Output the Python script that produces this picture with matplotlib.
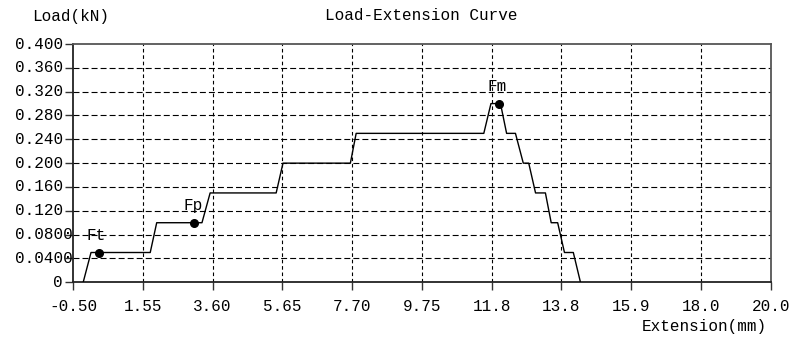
import numpy as np
import matplotlib
matplotlib.use("Agg")
import matplotlib.pyplot as plt

plt.rcParams['font.family'] = ['Liberation Mono', 'DejaVu Sans Mono']
plt.rcParams['lines.scale_dashes'] = False

# curve
extension = [-0.20, 0.03, 1.77, 1.96, 3.29, 3.53, 5.47, 5.67, 7.65, 7.82, 11.57, 11.78,
             12.06, 12.24, 12.50, 12.73, 12.89, 13.09, 13.38, 13.55, 13.74, 13.94, 14.20, 14.41]
load = [0, 0.05, 0.05, 0.10, 0.10, 0.15, 0.15, 0.20, 0.20, 0.25, 0.25, 0.30,
        0.30, 0.25, 0.25, 0.20, 0.20, 0.15, 0.15, 0.10, 0.10, 0.05, 0.05, 0]

# marked points
point_names = ["Ft", "Fp", "Fm"]
point_x = [0.26, 3.07, 12.01]
point_y = [0.05, 0.10, 0.30]
label_x = [0.18, 3.03, 11.97]
label_y = [0.079, 0.129, 0.329]

x_ticks = [-0.50, 1.55, 3.60, 5.65, 7.70, 9.75, 11.8, 13.8, 15.9, 18.0, 20.0]
x_ticklabels = ["-0.50", "1.55", "3.60", "5.65", "7.70", "9.75", "11.8", "13.8", "15.9", "18.0", "20.0"]
y_ticks = [0, 0.04, 0.08, 0.12, 0.16, 0.20, 0.24, 0.28, 0.32, 0.36, 0.40]
y_ticklabels = ["0", "0.0400", "0.0800", "0.120", "0.160", "0.200", "0.240", "0.280", "0.320", "0.360", "0.400"]

fig = plt.figure(figsize=(7.94, 3.43), dpi=100)
ax = fig.add_axes([0.0919, 0.177, 0.8788, 0.6947])

x_lin = np.linspace(-0.5, 20.0, 11)
ax.set_xlim(-0.5, 20.0)
ax.set_ylim(0, 0.4)

for xv in x_lin[1:-1]:
    ax.axvline(xv, color='black', lw=0.8, dashes=(2.6, 2.0), zorder=1)
for yv in y_ticks[1:-1]:
    ax.axhline(yv, color='black', lw=0.8, dashes=(4.3, 2.2), zorder=1)

ax.plot(extension, load, color='black', lw=1.0, zorder=3)
ax.plot(point_x, point_y, 'o', color='black', markersize=5.5, zorder=4)
for name, lx, ly in zip(point_names, label_x, label_y):
    ax.text(lx, ly, name, ha='center', va='center', fontsize=11.5, zorder=5)

ax.set_xticks(x_lin)
ax.set_xticklabels(x_ticklabels, fontsize=11.5)
ax.set_yticks(y_ticks)
ax.set_yticklabels([])
ax.tick_params(axis='x', direction='out', length=6, width=1.0, pad=6, color='#333333')
ax.tick_params(axis='y', direction='out', length=5.5, width=1.0, color='#333333')

# y labels drawn by hand: long ones overflow toward the axis like the reference
for yv, lab in zip(y_ticks, y_ticklabels):
    shift = 7.5 if len(lab) > 5 else 0
    ax.annotate(lab, xy=(0, yv), xycoords=('axes fraction', 'data'),
                xytext=(-7.3 + shift, 0), textcoords='offset points',
                ha='right', va='center', fontsize=11.5)

for side in ['left', 'bottom']:
    ax.spines[side].set_color('#222222')
    ax.spines[side].set_linewidth(1.3)
for side in ['top', 'right']:
    ax.spines[side].set_color('#555555')
    ax.spines[side].set_linewidth(1.3)

fig.text(421 / 794, 1 - 16 / 343, "Load-Extension Curve", ha='center', va='center', fontsize=11.5)
fig.text(32 / 794, 1 - 16 / 343, "Load(kN)", ha='left', va='center', fontsize=11.5)
fig.text(767 / 794, 1 - 327 / 343, "Extension(mm)", ha='right', va='center', fontsize=11.5)

fig.savefig("out.png", dpi=100)
